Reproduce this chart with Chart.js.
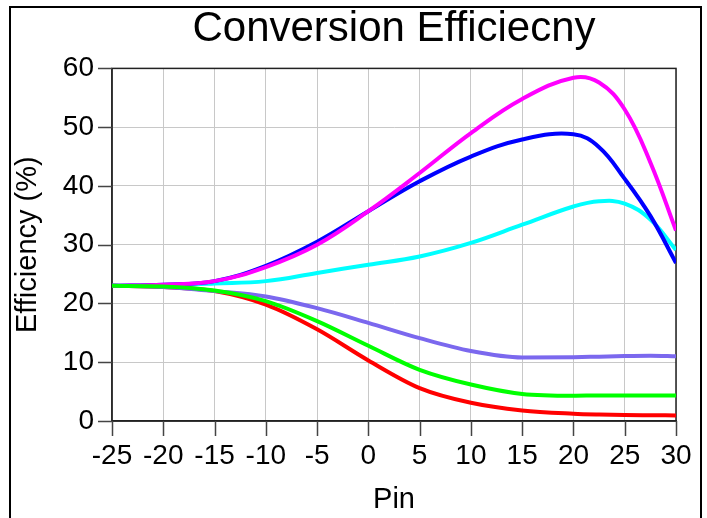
<!DOCTYPE html>
<html>
<head>
<meta charset="utf-8">
<script src="https://cdn.jsdelivr.net/npm/chart.js@4.4.0/dist/chart.umd.min.js"></script>
<style>
  html, body { margin: 0; padding: 0; background: #fff; }
  #wrap { position: relative; width: 707px; height: 518px; }
  #frame { position: absolute; left: 9px; top: 6px; width: 689px; height: 520px;
           border: 2px solid #000; border-bottom: none; pointer-events: none; }
</style>
</head>
<body>
<div id="wrap">
  <canvas id="chart" width="707" height="518"></canvas>
  <div id="frame"></div>
</div>
<script>
// Data
const pin = [-25, -20, -15, -10, -5, 0, 5, 10, 15, 20, 22.5, 25, 27.5, 30];
const effMagenta = [23.0, 23.2, 23.8, 26.2, 30.0, 35.7, 42.2, 49.0, 54.8, 58.4, 57.6, 53.0, 44.0, 32.4];
const effBlue    = [23.0, 23.2, 23.8, 26.4, 30.5, 35.7, 40.8, 45.0, 47.9, 48.8, 46.6, 41.2, 34.9, 26.9];
const effCyan    = [23.0, 23.1, 23.4, 23.8, 25.2, 26.6, 28.0, 30.3, 33.4, 36.5, 37.4, 37.0, 34.3, 29.1];
const effPurple  = [23.0, 22.8, 22.1, 21.2, 19.2, 16.7, 14.1, 11.9, 10.8, 10.85, 10.95, 11.05, 11.1, 11.0];
const effGreen   = [23.0, 22.9, 22.2, 20.4, 17.0, 12.8, 8.7, 6.2, 4.6, 4.3, 4.35, 4.35, 4.35, 4.35];
const effRed     = [23.0, 22.8, 22.1, 19.8, 15.6, 10.3, 5.6, 3.1, 1.8, 1.25, 1.1, 1.0, 0.97, 0.95];

const FONT = "'Liberation Sans', Arial, sans-serif";
const pts = arr => arr.map((v, i) => ({ x: pin[i], y: v }));
const series = (data, color, smooth) => ({
    data: pts(data), borderColor: color, backgroundColor: color,
    borderWidth: 4, pointRadius: 0, fill: false,
    cubicInterpolationMode: smooth ? 'default' : 'monotone', tension: 0.4
});

// tick marks + plot box
const axisDecor = {
    id: 'axisDecor',
    beforeDatasetsDraw(chart) {
        const { ctx, chartArea: a } = chart;
        ctx.save();
        ctx.strokeStyle = '#222';
        ctx.lineWidth = 1.5;
        ctx.strokeRect(a.left, a.top, a.right - a.left, a.bottom - a.top);
        ctx.restore();
    },
    afterDraw(chart) {
        const { ctx, chartArea: a, scales: { x, y } } = chart;
        ctx.save();
        ctx.strokeStyle = '#444';
        ctx.lineWidth = 1.5;
        ctx.beginPath();
        y.ticks.forEach(t => {
            const py = Math.round(y.getPixelForValue(t.value)) + 0.5;
            const len = t.value % 10 === 0 ? 14 : 6;
            ctx.moveTo(a.left - len, py); ctx.lineTo(a.left, py);
        });
        x.ticks.forEach(t => {
            const px = Math.round(x.getPixelForValue(t.value)) + 0.5;
            ctx.moveTo(px, a.bottom); ctx.lineTo(px, a.bottom + 15);
        });
        ctx.stroke();
        ctx.restore();
    }
};

new Chart(document.getElementById('chart'), {
    type: 'line',
    data: {
        datasets: [
            series(effGreen, '#00ff00'),
            series(effMagenta, '#ff00ff', true),
            series(effBlue, '#0000ff', true),
            series(effCyan, '#00ffff', true),
            series(effPurple, '#7b68ee'),
            series(effRed, '#ff0000')
        ]
    },
    options: {
        responsive: false,
        animation: false,
        layout: { padding: { left: 7, right: 31, top: 0, bottom: 0 } },
        plugins: {
            legend: { display: false },
            tooltip: { enabled: false },
            title: {
                display: true, text: 'Conversion Efficiecny', fullSize: false,
                color: '#000', font: { family: FONT, size: 42, weight: 'normal' },
                padding: { top: 4, bottom: 14 }
            }
        },
        scales: {
            x: {
                type: 'linear', min: -25, max: 30,
                afterFit: s => { s.height = 97; },
                ticks: { stepSize: 5, color: '#000', padding: 3, maxRotation: 0,
                         font: { family: FONT, size: 28 } },
                grid: { color: '#c8c8c8', lineWidth: 1, tickLength: 15, tickColor: 'transparent' },
                border: { color: '#222', width: 1.5 },
                title: { display: true, text: 'Pin', color: '#000',
                         font: { family: FONT, size: 29 }, padding: { top: 4, bottom: 1 } }
            },
            y: {
                min: 0, max: 60,
                afterFit: s => { s.width = 105; },
                ticks: { stepSize: 5, color: '#000', padding: 4,
                         font: { family: FONT, size: 28 },
                         callback: v => v % 10 === 0 ? v : '' },
                grid: { color: c => c.tick && c.tick.value % 10 === 0 ? '#c8c8c8' : 'transparent',
                        lineWidth: 1, tickLength: 14, tickColor: 'transparent' },
                border: { color: '#444', width: 1.5 },
                title: { display: true, text: 'Efficiency (%)', color: '#000',
                         font: { family: FONT, size: 29 }, padding: { top: 4, bottom: 4 } }
            }
        }
    },
    plugins: [axisDecor]
});
</script>
</body>
</html>
